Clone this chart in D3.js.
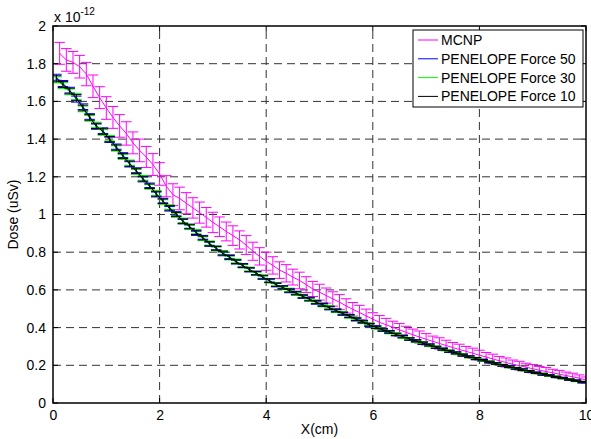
<!DOCTYPE html>
<html>
<head>
<meta charset="utf-8">
<script src="https://cdn.jsdelivr.net/npm/d3@7"></script>
<style>
  body { margin: 0; background: #fff; }
  svg { font-family: Arial, "Liberation Sans", Helvetica, sans-serif; }
</style>
</head>
<body>
<svg id="chart" width="591" height="439"></svg>
<script>
// data (dose in units of 1e-12 uSv)
const xMcnp = [0.125,0.25,0.375,0.5,0.625,0.75,0.875,1,
  1.125,1.25,1.375,1.5,1.625,1.75,1.875,2,
  2.125,2.25,2.375,2.5,2.625,2.75,2.875,3,
  3.125,3.25,3.375,3.5,3.625,3.75,3.875,4,
  4.125,4.25,4.375,4.5,4.625,4.75,4.875,5,
  5.125,5.25,5.375,5.5,5.625,5.75,5.875,6,
  6.125,6.25,6.375,6.5,6.625,6.75,6.875,7,
  7.125,7.25,7.375,7.5,7.625,7.75,7.875,8,
  8.125,8.25,8.375,8.5,8.625,8.75,8.875,9,
  9.125,9.25,9.375,9.5,9.625,9.75,9.875,10];
const mcnp = [1.855,1.82,1.807,1.784,1.745,1.68,1.62,1.565,
  1.515,1.47,1.43,1.38,1.34,1.305,1.265,1.215,
  1.15,1.105,1.085,1.06,1.035,1.01,0.985,0.958,
  0.935,0.91,0.888,0.865,0.838,0.805,0.778,0.752,
  0.73,0.705,0.688,0.668,0.65,0.628,0.605,0.588,
  0.57,0.552,0.535,0.515,0.497,0.48,0.462,0.445,
  0.428,0.415,0.402,0.388,0.375,0.362,0.35,0.338,
  0.327,0.316,0.305,0.294,0.284,0.274,0.264,0.254,
  0.244,0.234,0.224,0.215,0.206,0.198,0.19,0.182,
  0.174,0.167,0.16,0.153,0.146,0.139,0.132,0.122];
const mcnpErr = [0.058,0.060,0.058,0.060,0.062,0.060,0.058,0.060,
  0.058,0.060,0.062,0.058,0.060,0.056,0.058,0.060,
  0.056,0.058,0.060,0.056,0.054,0.056,0.052,0.054,
  0.052,0.050,0.052,0.048,0.050,0.048,0.046,0.048,
  0.046,0.044,0.046,0.042,0.044,0.042,0.040,0.042,
  0.040,0.038,0.040,0.038,0.036,0.038,0.036,0.034,
  0.036,0.034,0.032,0.034,0.032,0.030,0.032,0.030,
  0.028,0.030,0.028,0.027,0.028,0.026,0.027,0.026,
  0.024,0.025,0.023,0.024,0.022,0.023,0.021,0.022,
  0.020,0.021,0.019,0.020,0.018,0.019,0.017,0.016];

const xPen = [0.0625,0.1875,0.3125,0.4375,0.5625,0.6875,0.8125,0.9375,
  1.0625,1.1875,1.3125,1.4375,1.5625,1.6875,1.8125,1.9375,
  2.0625,2.1875,2.3125,2.4375,2.5625,2.6875,2.8125,2.9375,
  3.0625,3.1875,3.3125,3.4375,3.5625,3.6875,3.8125,3.9375,
  4.0625,4.1875,4.3125,4.4375,4.5625,4.6875,4.8125,4.9375,
  5.0625,5.1875,5.3125,5.4375,5.5625,5.6875,5.8125,5.9375,
  6.0625,6.1875,6.3125,6.4375,6.5625,6.6875,6.8125,6.9375,
  7.0625,7.1875,7.3125,7.4375,7.5625,7.6875,7.8125,7.9375,
  8.0625,8.1875,8.3125,8.4375,8.5625,8.6875,8.8125,8.9375,
  9.0625,9.1875,9.3125,9.4375,9.5625,9.6875,9.8125,9.9375];
const pen50 = [1.728,1.695,1.66,1.612,1.572,1.52,1.466,1.445,
  1.396,1.36,1.315,1.266,1.235,1.186,1.155,1.106,
  1.074,1.03,1.004,0.962,0.938,0.9,0.879,0.842,
  0.823,0.791,0.776,0.747,0.731,0.705,0.691,0.665,
  0.651,0.625,0.615,0.594,0.585,0.563,0.553,0.532,
  0.523,0.502,0.493,0.472,0.463,0.442,0.433,0.412,
  0.404,0.386,0.379,0.362,0.355,0.338,0.331,0.316,
  0.309,0.294,0.287,0.273,0.267,0.253,0.247,0.234,
  0.229,0.216,0.211,0.198,0.194,0.182,0.178,0.166,
  0.162,0.151,0.148,0.137,0.134,0.123,0.12,0.109];
const pen30 = [1.714,1.684,1.65,1.626,1.56,1.51,1.476,1.435,
  1.405,1.35,1.305,1.275,1.226,1.195,1.146,1.115,
  1.066,1.04,0.996,0.969,0.931,0.909,0.871,0.849,
  0.817,0.799,0.769,0.754,0.725,0.711,0.685,0.671,
  0.645,0.631,0.609,0.6,0.579,0.569,0.547,0.538,
  0.517,0.508,0.487,0.478,0.457,0.448,0.427,0.418,
  0.398,0.39,0.373,0.367,0.349,0.342,0.326,0.32,
  0.304,0.298,0.283,0.277,0.263,0.257,0.243,0.238,
  0.225,0.22,0.207,0.202,0.19,0.186,0.174,0.17,
  0.158,0.155,0.144,0.141,0.13,0.127,0.116,0.113];
const pen10 = [1.72,1.69,1.655,1.62,1.565,1.515,1.47,1.44,
  1.4,1.355,1.31,1.27,1.23,1.19,1.15,1.11,
  1.07,1.035,1.0,0.965,0.935,0.905,0.875,0.845,
  0.82,0.795,0.772,0.75,0.728,0.708,0.688,0.668,
  0.648,0.628,0.612,0.597,0.582,0.566,0.55,0.535,
  0.52,0.505,0.49,0.475,0.46,0.445,0.43,0.415,
  0.401,0.388,0.376,0.364,0.352,0.34,0.329,0.318,
  0.307,0.296,0.285,0.275,0.265,0.255,0.245,0.236,
  0.227,0.218,0.209,0.2,0.192,0.184,0.176,0.168,
  0.16,0.153,0.146,0.139,0.132,0.125,0.118,0.111];
const penErr = [0.016,0.016,0.015,0.016,0.015,0.015,0.014,0.015,
  0.014,0.014,0.013,0.014,0.013,0.013,0.012,0.013,
  0.012,0.012,0.011,0.012,0.011,0.011,0.010,0.011,
  0.010,0.010,0.010,0.010,0.009,0.010,0.009,0.009,
  0.009,0.009,0.008,0.009,0.008,0.008,0.008,0.008,
  0.007,0.008,0.007,0.007,0.007,0.007,0.006,0.007,
  0.006,0.006,0.006,0.006,0.006,0.006,0.005,0.006,
  0.005,0.005,0.005,0.005,0.005,0.005,0.004,0.005,
  0.004,0.004,0.004,0.004,0.004,0.004,0.004,0.004,
  0.003,0.004,0.003,0.003,0.003,0.003,0.003,0.003];

const xTicks = [0, 2, 4, 6, 8, 10];
const yTicks = [0, 0.2, 0.4, 0.6, 0.8, 1, 1.2, 1.4, 1.6, 1.8, 2];
const seriesNames = ["MCNP", "PENELOPE Force 50", "PENELOPE Force 30", "PENELOPE Force 10"];
const seriesColors = ["#ff00ff", "#0000ff", "#00ff00", "#000000"];

// layout
const pLeft = 53, pRight = 586, pTop = 26, pBottom = 403;
const svg = d3.select("#chart");
const x = d3.scaleLinear().domain([0, 10]).range([pLeft, pRight]);
const y = d3.scaleLinear().domain([0, 2]).range([pBottom, pTop]);

svg.append("rect").attr("x", pLeft).attr("y", pTop)
  .attr("width", pRight - pLeft).attr("height", pBottom - pTop).attr("fill", "#fff");

// dashed grid
const grid = svg.append("g").attr("stroke", "#000").attr("stroke-width", 1)
  .attr("stroke-dasharray", "8,5").attr("opacity", 0.8);
xTicks.slice(1, -1).forEach(t => {
  grid.append("line").attr("x1", x(t)).attr("x2", x(t)).attr("y1", pBottom).attr("y2", pTop);
});
yTicks.slice(1, -1).forEach(t => {
  grid.append("line").attr("x1", pLeft).attr("x2", pRight).attr("y1", y(t)).attr("y2", y(t));
});

svg.append("clipPath").attr("id", "plotClip").append("rect")
  .attr("x", pLeft).attr("y", pTop).attr("width", pRight - pLeft).attr("height", pBottom - pTop);
const plot = svg.append("g").attr("clip-path", "url(#plotClip)");

function drawSeries(xs, ys, errs, color) {
  const tee = (d3.max(xs) - d3.min(xs)) / 100;
  const pts = xs.map((d, i) => ({ x: d, y: ys[i], e: errs[i] }));
  const g = plot.append("g").attr("stroke", color).attr("stroke-width", 1).attr("fill", "none");
  g.append("path").datum(pts)
    .attr("d", d3.line().x(d => x(d.x)).y(d => y(d.y)));
  g.selectAll(".eb").data(pts).enter().append("path").attr("class", "eb")
    .attr("d", d => {
      const xl = x(d.x - tee), xr = x(d.x + tee), xc = x(d.x);
      const yt = y(d.y + d.e), yb = y(d.y - d.e);
      return `M${xc},${yt}V${yb}M${xl},${yt}H${xr}M${xl},${yb}H${xr}`;
    });
}

drawSeries(xMcnp, mcnp, mcnpErr, seriesColors[0]);
drawSeries(xPen, pen50, penErr, seriesColors[1]);
drawSeries(xPen, pen30, penErr, seriesColors[2]);
drawSeries(xPen, pen10, penErr, seriesColors[3]);

// axes
const xAxis = d3.axisBottom(x).tickValues(xTicks).tickSize(0).tickPadding(7).tickFormat(d3.format("~g"));
const yAxis = d3.axisLeft(y).tickValues(yTicks).tickSize(0).tickPadding(7).tickFormat(d3.format("~g"));
const gx = svg.append("g").attr("transform", `translate(0,${pBottom})`).call(xAxis);
const gy = svg.append("g").attr("transform", `translate(${pLeft},0)`).call(yAxis);
[gx, gy].forEach(g => {
  g.select(".domain").remove();
  g.selectAll("text").attr("font-size", 14).attr("fill", "#000")
    .attr("font-family", "Arial, 'Liberation Sans', sans-serif");
});

// small inner ticks on all four sides
const tk = svg.append("g").attr("stroke", "#000").attr("stroke-width", 1);
xTicks.forEach(t => {
  tk.append("line").attr("x1", x(t)).attr("x2", x(t)).attr("y1", pBottom).attr("y2", pBottom - 5);
  tk.append("line").attr("x1", x(t)).attr("x2", x(t)).attr("y1", pTop).attr("y2", pTop + 5);
});
yTicks.forEach(t => {
  tk.append("line").attr("x1", pLeft).attr("x2", pLeft + 5).attr("y1", y(t)).attr("y2", y(t));
  tk.append("line").attr("x1", pRight).attr("x2", pRight - 5).attr("y1", y(t)).attr("y2", y(t));
});

// box
svg.append("rect").attr("x", pLeft).attr("y", pTop)
  .attr("width", pRight - pLeft).attr("height", pBottom - pTop)
  .attr("fill", "none").attr("stroke", "#000").attr("stroke-width", 1.5);

// exponent label
const expo = svg.append("text").attr("x", 54).attr("y", 22).attr("font-size", 14).attr("fill", "#000");
expo.append("tspan").text("x 10");
expo.append("tspan").attr("dy", -7).attr("font-size", 10).text("-12");

// axis labels
svg.append("text").attr("x", (pLeft + pRight) / 2).attr("y", 434)
  .attr("text-anchor", "middle").attr("font-size", 14).text("X(cm)");
svg.append("text").attr("transform", `translate(18,${(pTop + pBottom) / 2}) rotate(-90)`)
  .attr("text-anchor", "middle").attr("font-size", 14).text("Dose (uSv)");

// legend
const lg = svg.append("g");
lg.append("rect").attr("x", 413).attr("y", 30).attr("width", 170).attr("height", 77)
  .attr("fill", "#fff").attr("stroke", "#000").attr("stroke-width", 1);
seriesNames.forEach((name, i) => {
  const ly = 40 + i * 18.8;
  lg.append("line").attr("x1", 418).attr("x2", 438).attr("y1", ly).attr("y2", ly)
    .attr("stroke", seriesColors[i]).attr("stroke-width", 1);
  lg.append("text").attr("x", 441).attr("y", ly + 5).attr("font-size", 14).text(name);
});
</script>
</body>
</html>
